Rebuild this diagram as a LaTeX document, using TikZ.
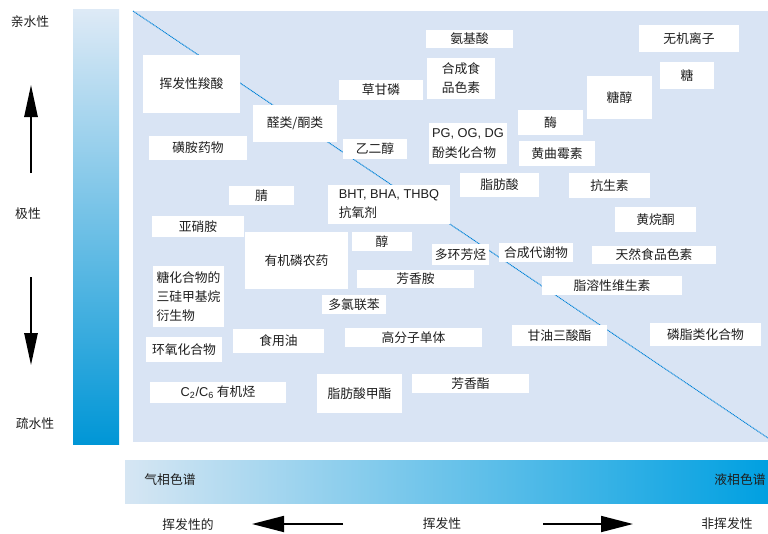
\documentclass[tikz,border=0pt]{standalone}
\usepackage{fontspec}
\setmainfont{Noto Sans CJK SC}
\newfontfamily\lat{Liberation Sans}
\usetikzlibrary{arrows.meta}
\definecolor{panel}{RGB}{217,228,244}
\definecolor{barlight}{RGB}{222,234,246}
\definecolor{bardark}{RGB}{0,150,214}
\definecolor{hbarlight}{RGB}{214,230,243}
\definecolor{hbardark}{RGB}{0,160,225}
\definecolor{diag}{RGB}{0,130,215}
\definecolor{txt}{RGB}{30,30,30}
\tikzset{
  wb/.style={fill=white, draw=none, inner sep=0pt, align=center, text=txt},
  lbl/.style={inner sep=0pt, text=txt, align=center},
  bigarrow/.style={draw=black, line width=1.3pt, -{Triangle[length=24pt, width=12pt]}},
  vertarrow/.style={draw=black, line width=1.3pt, -{Triangle[length=24pt, width=10pt]}}
}
\newcommand\wbox[7][]{%
  \pgfmathsetmacro\bw{(#4-#2)*0.75}\pgfmathsetmacro\bh{(#5-#3)*0.75}%
  \node[wb, minimum width=\bw pt, minimum height=\bh pt, #1] (#6) at ({(#2+#4)/2},{(#3+#5)/2}) {#7};}
\begin{document}
\begin{tikzpicture}[x=0.75pt, y=-0.75pt, font=\fontsize{9.6}{14.3}\selectfont]
\useasboundingbox (0,0) rectangle (768,533);
% left vertical gradient bar
\shade[top color=barlight, bottom color=bardark] (73,9) rectangle (119,444);
% main panel
\fill[panel] (133,11) rectangle (768,442);
% bottom gradient bar
\shade[left color=hbarlight, right color=hbardark] (125,460) rectangle (768,503);
% diagonal
\coordinate (d1) at (133,11);
\coordinate (d2) at (768,438);
\draw[diag, line width=0.7pt, dash pattern=on 0.8pt off 0.5pt] (d1) -- (d2);

% boxes
\wbox{143}{55}{240}{113}{b1}{挥发性羧酸}
\wbox{149}{136}{247}{160}{b2}{磺胺药物}
\wbox{253}{105}{337}{142}{b3}{醛类/酮类}
\wbox{339}{80}{423}{100}{b4}{草甘磷}
\wbox{343}{139}{407}{159}{b5}{乙二醇}
\wbox{426}{30}{513}{48}{b6}{氨基酸}
\wbox[font=\fontsize{9.6}{14.3}\selectfont]{427}{58}{495}{99}{b7}{合成食\\品色素}
\wbox[align=left, font=\fontsize{9.6}{15}\selectfont]{429}{123}{507}{164}{b8}{{\lat PG, OG, DG}\\酚类化合物}
\wbox{639}{25}{739}{52}{b9}{无机离子}
\wbox{660}{62}{714}{89}{b10}{糖}
\wbox{587}{76}{652}{119}{b11}{糖醇}
\wbox{518}{110}{583}{135}{b12}{酶}
\wbox{519}{141}{595}{166}{b13}{黄曲霉素}
\wbox{229}{186}{294}{205}{b14}{腈}
\wbox[align=left]{328}{185}{450}{224}{b15}{{\lat BHT, BHA, THBQ}\\抗氧剂}
\wbox{152}{216}{244}{237}{b16}{亚硝胺}
\wbox{245}{232}{348}{289}{b17}{有机磷农药}
\wbox{352}{232}{412}{251}{b18}{醇}
\wbox{357}{270}{474}{288}{b19}{芳香胺}
\wbox{322}{295}{386}{314}{b20}{多氯联苯}
\wbox[align=left]{153}{266}{224}{327}{b21}{糖化合物的\\三硅甲基烷\\衍生物}
\wbox{432}{244}{489}{265}{b22}{多环芳烃}
\wbox{499}{243}{573}{262}{b23}{合成代谢物}
\wbox{460}{173}{539}{197}{b24}{脂肪酸}
\wbox{569}{173}{650}{198}{b25}{抗生素}
\wbox{615}{207}{696}{232}{b26}{黄烷酮}
\wbox{592}{246}{716}{264}{b27}{天然食品色素}
\wbox{542}{276}{682}{295}{b28}{脂溶性维生素}
\wbox{512}{325}{607}{346}{b29}{甘油三酸酯}
\wbox{650}{323}{761}{346}{b30}{磷脂类化合物}
\wbox{233}{329}{324}{353}{b31}{食用油}
\wbox{345}{328}{482}{347}{b32}{高分子单体}
\wbox{146}{337}{222}{362}{b33}{环氧化合物}
\wbox{150}{382}{286}{403}{b34}{{\lat C\textsubscript{2}/C\textsubscript{6}} 有机烃}
\wbox{317}{374}{402}{413}{b35}{脂肪酸甲酯}
\wbox{412}{374}{529}{393}{b36}{芳香酯}

% left labels
\node[lbl] (hydro) at (30,22) {亲水性};
\node[lbl] (polar) at (28,214) {极性};
\node[lbl] (phobic) at (35,424) {疏水性};
\coordinate (ua1) at (31,173);
\coordinate (ua2) at (31,85);
\coordinate (da1) at (31,277);
\coordinate (da2) at (31,365);
\draw[vertarrow] (ua1) -- (ua2);
\draw[vertarrow] (da1) -- (da2);

% bottom bar labels
\node[lbl] (gc) at (170,480) {气相色谱};
\node[lbl] (lc) at (740,480) {液相色谱};
\node[lbl] (vol1) at (188,525) {挥发性的};
\node[lbl] (vol2) at (442,524) {挥发性};
\node[lbl] (vol3) at (727,524) {非挥发性};
\coordinate (la1) at (343,524);
\coordinate (la2) at (252,524);
\coordinate (ra1) at (543,524);
\coordinate (ra2) at (633,524);
\draw[bigarrow] (la1) -- (la2);
\draw[bigarrow] (ra1) -- (ra2);
\end{tikzpicture}
\end{document}
